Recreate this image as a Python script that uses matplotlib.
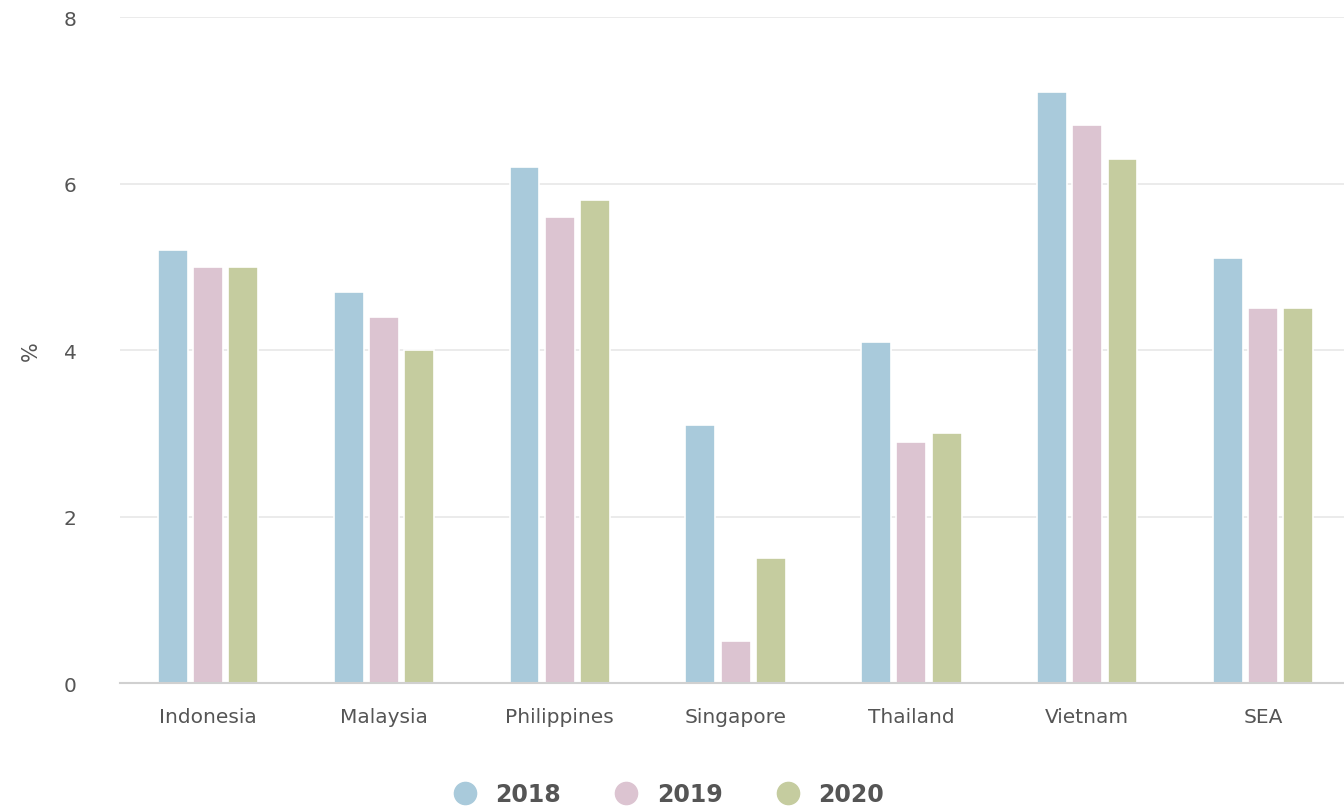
import matplotlib
matplotlib.use("Agg")
import matplotlib.pyplot as plt
from matplotlib.lines import Line2D
import numpy as np

countries = ["Indonesia", "Malaysia", "Philippines", "Singapore", "Thailand", "Vietnam", "SEA"]
years = ["2018", "2019", "2020"]
v2018 = [5.2, 4.7, 6.2, 3.1, 4.1, 7.1, 5.1]
v2019 = [5.0, 4.4, 5.6, 0.5, 2.9, 6.7, 4.5]
v2020 = [5.0, 4.0, 5.8, 1.5, 3.0, 6.3, 4.5]
colors = ["#a9cadb", "#dcc4d1", "#c5cc9f"]

fig = plt.figure(figsize=(13.44, 8.12), dpi=100)
ax = fig.add_axes([0.0893, 0.1576, 0.916, 0.8202])

x = np.arange(len(countries))
width = 0.17
offsets = [-0.2, 0.0, 0.2]
for vals, off, c in zip([v2018, v2019, v2020], offsets, colors):
    ax.bar(x + off, vals, width, color=c, edgecolor="white", linewidth=1.2, zorder=3)

ax.set_xlim(-0.5, len(countries) - 0.5)
ax.set_ylim(0, 8)
ax.set_yticks([0, 2, 4, 6, 8])
ax.set_xticks(x)
ax.set_xticklabels(countries)
ax.tick_params(axis="x", length=0, pad=17, labelsize=14.5, labelcolor="#555555")
ax.tick_params(axis="y", length=0, pad=36, labelsize=14.5, labelcolor="#555555")
for lbl in ax.get_yticklabels():
    lbl.set_horizontalalignment("center")

ax.grid(axis="y", color="#e8e8e8", linewidth=1.2, zorder=0)
for s in ["top", "right", "left"]:
    ax.spines[s].set_visible(False)
ax.spines["bottom"].set_color("#d0d0d0")
ax.spines["bottom"].set_linewidth(1.5)
ax.spines["bottom"].set_zorder(4)

ax.set_ylabel("%", fontsize=15, color="#555555")
ax.yaxis.set_label_coords(-0.064, 0.5)

handles = [Line2D([0], [0], marker="o", linestyle="", markersize=16,
                  markerfacecolor=c, markeredgecolor=c) for c in colors]
fig.legend(handles, years, loc="center", bbox_to_anchor=(0.493, 0.021), ncol=3,
           frameon=False, handletextpad=0.3, columnspacing=1.75,
           labelcolor="#555555", prop={"weight": "bold", "size": 17})

fig.savefig("out.png", dpi=100)
